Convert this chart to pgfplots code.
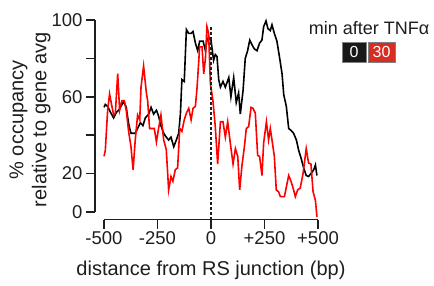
\documentclass[border=0pt]{standalone}
\usepackage{pgfplots}
\pgfplotsset{compat=1.18}
\usepackage{fontspec}
\setmainfont{Liberation Sans}
\definecolor{legred}{RGB}{215,45,35}
\definecolor{legblack}{RGB}{25,25,25}
\definecolor{ink}{RGB}{30,30,30}
\begin{document}
\begin{tikzpicture}[x=1bp,y=1bp]
\useasboundingbox (0,0) rectangle (434,285);
\begin{axis}[
  at={(104bp,73bp)}, anchor=south west,
  scale only axis, width=214bp, height=192bp,
  xmin=-500, xmax=500, ymin=0, ymax=100,
  clip=false,
  axis x line=bottom, axis y line=left,
  separate axis lines,
  axis x line shift=7.5bp, axis y line shift=9bp,
  axis line style={-, line width=1.5bp, ink},
  tick style={line width=1.5bp, ink},
  tick align=outside,
  major tick length=9bp,
  xtick={-500,-250,0,250,500},
  xticklabels={-500,-250,0,+250,+500},
  ytick={0,20,40,60,80,100},
  yticklabels={0,20,,60,,100},
  tick label style={font=\fontsize{18.5bp}{20bp}\selectfont, text=ink},
  xlabel={distance from RS junction (bp)},
  ylabel={\% occupancy\\relative to gene avg},
  label style={font=\fontsize{20bp}{23bp}\selectfont, text=ink},
  xlabel style={at={(axis description cs:0.5,-0.333)}, anchor=base},
  ylabel style={at={(axis description cs:-0.346,0.48)}, anchor=center, align=center},
]
\addplot[black, line width=1.6bp] coordinates {
(-500,54.5)(-494,56)(-483,55)(-470,52)(-455,49)(-442,52)(-431,53)(-421,55)(-408,57.5)(-396,54.5)
(-385,46)(-374,41)(-354,41)(-343,43.5)(-330,46.5)(-318,45)(-307,49)(-291,51)(-280,54.5)(-268,51)
(-255,53)(-245,50)(-234,45)(-221,41)(-209,39)(-198,37.5)(-187,39)(-174,34)(-162,37.5)(-151,41)
(-143,51)(-136,69)(-125,68)(-115,95)(-104,93)(-93,93)(-84,94)(-73,88)(-62,84)(-53,89)
(-37,89)(-26,84)(-19,89.5)(-11,91)(0,89.5)(12,79)(20,82)(28,81)(36,69)(44,65)
(56,68)(67,65)(83,70)(93,60)(106,70)(118,57)(129,62)(137,51)(150,63.5)(160,80)
(171,84)(181,89.5)(192,87)(202,85)(215,84)(227,88)(238,89.5)(246,96.5)(257,99.5)(266,95.5)
(277,94.5)(285,97.5)(296,93)(308,89)(321,80)(332,72)(340,61)(352,55)(363,43.5)(374,42.5)
(386,41)(399,37.5)(410,32)(421,28)(433,23)(445,19)(456,18.5)(467,20)(480,22)(488,24.5)(495,19)
};
\addplot[red, line width=1.6bp] coordinates {
(-500,29)(-494,32)(-483,53)(-474,61.5)(-463,55)(-455,50.5)(-447,51.5)(-436,72)(-427,53)(-416,58)
(-405,58)(-396,53)(-385,42)(-374,34)(-364,22)(-354,37.5)(-343,50.5)(-333,48)(-327,65)(-315,76)
(-302,62)(-296,58)(-287,43.5)(-276,43.5)(-265,43.5)(-255,36.5)(-245,43.5)(-234,50.5)(-221,37.5)(-209,32.5)
(-198,11.5)(-187,18.5)(-178,16)(-167,22)(-156,23)(-146,43.5)(-136,42)(-125,48)(-115,51.5)(-104,54)
(-93,48)(-84,54)(-73,55)(-65,65)(-53,86)(-42,86)(-34,72)(-26,80)(-19,96.5)(-11,93)
(-3,67)(9,58)(20,44.5)(31,25)(44,47)(56,47)(67,39)(78,47)(90,36)(103,25)
(114,33)(125,29)(134,11.5)(145,24.5)(156,34)(165,43.5)(176,44.5)(187,54.5)(196,54)(207,51.5)
(218,29.5)(227,29)(238,19)(246,36)(259,47)(269,37.5)(277,43.5)(285,37.5)(296,29)(305,11.5)
(316,10.5)(324,8)(343,8)(352,13)(363,19)(374,16)(386,11.5)(394,8)(405,11.5)(417,12.5)
(430,20)(445,33)(456,25.5)(467,25)(477,10.5)(488,6)(495,-2.5)
};
\addplot[ink, line width=1.3bp, dash pattern=on 2.5bp off 2.5bp] coordinates {(0,-4) (0,97)};
\end{axis}
\node[anchor=base, font=\fontsize{18bp}{20bp}\selectfont, text=ink] at (369,251) {min after TNFα};
\node[fill=legblack, draw=gray, line width=0.6bp, text=white, minimum height=20bp, minimum width=24bp, inner sep=0pt, font=\fontsize{16bp}{18bp}\selectfont] at (354,233) {0};
\node[fill=legred, draw=gray, line width=0.6bp, text=white, minimum height=20bp, minimum width=27bp, inner sep=0pt, font=\fontsize{16bp}{18bp}\selectfont] at (381.5,233) {30};
\end{tikzpicture}
\end{document}
